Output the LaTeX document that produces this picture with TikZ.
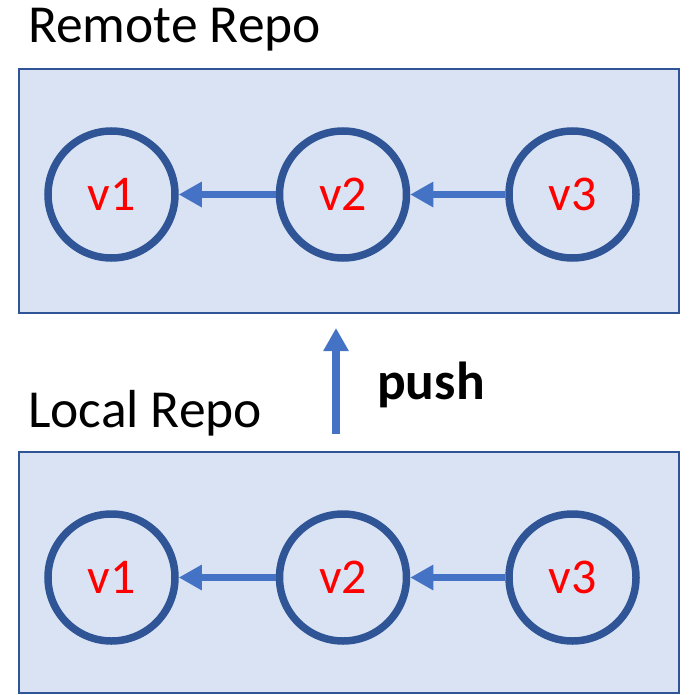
\documentclass[tikz,border=0pt]{standalone}
\usepackage{fontspec}
\setmainfont{Carlito}
\usetikzlibrary{arrows.meta}
\definecolor{boxfill}{HTML}{DAE3F3}
\definecolor{boxline}{HTML}{2F5597}
\definecolor{arrowblue}{HTML}{4472C4}
\begin{document}
\begin{tikzpicture}[x=1pt,y=-1pt,
  repo/.style={draw=boxline,fill=boxfill,line width=2.5pt},
  commit/.style={circle,draw=boxline,line width=7.5pt,minimum size=127pt,inner sep=0pt,
    text=red,font=\fontsize{50}{56}\selectfont},
  title/.style={anchor=base west,inner sep=0pt,font=\fontsize{53.5}{60}\selectfont},
  link/.style={draw=arrowblue,line width=7.5pt,-{Triangle[length=23pt,width=24pt]}}]
\useasboundingbox (0,0) rectangle (692,695);
% boxes
\draw[repo] (19,69) rectangle (679,313);
\draw[repo] (19,452) rectangle (679,693);
% titles
\node[title] (rt) at (28,43) {Remote Repo};
\node[title] (lt) at (28,427) {Local Repo};
\node[title,font=\fontsize{53.5}{60}\selectfont\bfseries] (push) at (377,399) {push};
% remote commits
\node[commit] (r1) at (111.5,194.5) {v1};
\node[commit] (r2) at (343,194.5) {v2};
\node[commit] (r3) at (572.5,194.5) {v3};
% local commits
\node[commit] (l1) at (111.5,577.5) {v1};
\node[commit] (l2) at (343,577.5) {v2};
\node[commit] (l3) at (572.5,577.5) {v3};
% links
\draw[link] (r2.west) -- (r1.east);
\draw[link] (r3.west) -- (r2.east);
\draw[link] (l2.west) -- (l1.east);
\draw[link] (l3.west) -- (l2.east);
% push arrow
\coordinate (pfrom) at (336,434);
\coordinate (pto) at (336,328);
\draw[link] (pfrom) -- (pto);
\end{tikzpicture}
\end{document}
